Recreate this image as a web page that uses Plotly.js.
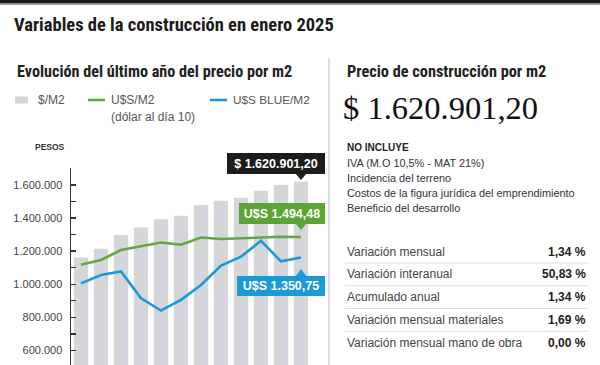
<!DOCTYPE html>
<html>
<head>
<meta charset="utf-8">
<script src="https://cdn.plot.ly/plotly-3.0.1.min.js"></script>
<style>
  html, body { margin: 0; padding: 0; background: #fff; }
  #chart { width: 600px; height: 365px; }
</style>
</head>
<body>
<div id="chart"></div>
<script>
// ---- data ----
const months = ['Feb 24','Mar 24','Abr 24','May 24','Jun 24','Jul 24','Ago 24','Sep 24','Oct 24','Nov 24','Dic 24','Ene 25'];
const pesosM2 = [1162000, 1214000, 1297000, 1343000, 1393000, 1413000, 1478000, 1504000, 1523000, 1564000, 1599500, 1620901.20];
const usdM2 = [1300, 1333, 1403, 1431, 1456, 1440, 1491, 1480, 1484, 1491, 1496, 1494.48];
const usdBlueM2 = [1169, 1228, 1253, 1064, 978, 1053, 1157, 1293, 1356, 1468, 1323, 1350.75];
const yTickStep = 200000;
const seriesNames = ['$/M2', 'U$S/M2', 'U$S BLUE/M2'];
const calloutTexts = ['$ 1.620.901,20', 'U$S 1.494,48', 'U$S 1.350,75'];
const rightTitle = 'Precio de construcción por m2';
const bigValue = '$ 1.620.901,20';
const noIncluye = ['IVA (M.O 10,5% - MAT 21%)', 'Incidencia del terreno', 'Costos de la figura jurídica del emprendimiento', 'Beneficio del desarrollo'];
const tableLabels = ['Variación mensual', 'Variación interanual', 'Acumulado anual', 'Variación mensual materiales', 'Variación mensual mano de obra'];
const tableValues = ['1,34 %', '50,83 %', '1,34 %', '1,69 %', '0,00 %'];

// ---- styling ----
const W = 600, H = 365;
const px = v => v / W;
const py = v => 1 - v / H;
const NARROW = "'Liberation Sans Narrow', 'Roboto Condensed', 'Arial Narrow', 'Liberation Sans', sans-serif";
const SANS = "'Liberation Sans', Arial, sans-serif";
const SERIF = "'Liberation Serif', 'Times New Roman', serif";
const BAR = '#d5d6da', GREEN = '#62a83a', BLUE = '#1a9ad6', BLACK = '#1c1c1c';
const usdFactor = 860; // pesos per USD on the shared visual scale
const yRange = [512000, 1702000];

const last = months.length - 1;

const traces = [
  { type: 'bar', x: months, y: pesosM2, name: seriesNames[0], marker: { color: BAR }, hoverinfo: 'skip' },
  { type: 'scatter', mode: 'lines', x: months, y: usdM2, yaxis: 'y2', name: seriesNames[1], line: { color: GREEN, width: 2.6 }, hoverinfo: 'skip' },
  { type: 'scatter', mode: 'lines', x: months, y: usdBlueM2, yaxis: 'y2', name: seriesNames[2], line: { color: BLUE, width: 2.6 }, hoverinfo: 'skip' }
];

const ann = [];
const shapes = [];

// top band
shapes.push({ type: 'rect', xref: 'paper', yref: 'paper', x0: 0, x1: 1, y0: py(3.6), y1: 1, fillcolor: '#231c16', line: { width: 0 } });
shapes.push({ type: 'line', xref: 'paper', yref: 'paper', x0: 0, x1: 1, y0: py(4.4), y1: py(4.4), line: { color: '#9a9a9a', width: 1 } });

// titles
ann.push({ xref: 'paper', yref: 'paper', x: px(12), y: py(25), xanchor: 'left', yanchor: 'middle', showarrow: false,
  text: '<b>Variables de la construcción en enero 2025</b>', font: { family: NARROW, size: 18.5, color: '#1a1a1a' } });
ann.push({ xref: 'paper', yref: 'paper', x: px(15), y: py(71.5), xanchor: 'left', yanchor: 'middle', showarrow: false,
  text: '<b>Evolución del último año del precio por m2</b>', font: { family: NARROW, size: 16.2, color: '#222' } });

// legend
shapes.push({ type: 'rect', xref: 'paper', yref: 'paper', x0: px(15), x1: px(28), y0: py(103.5), y1: py(96.5), fillcolor: BAR, line: { width: 0 } });
ann.push({ xref: 'paper', yref: 'paper', x: px(36), y: py(100), xanchor: 'left', yanchor: 'middle', showarrow: false,
  text: seriesNames[0], font: { family: SANS, size: 12, color: '#555' } });
shapes.push({ type: 'line', xref: 'paper', yref: 'paper', x0: px(88), x1: px(105), y0: py(100), y1: py(100), line: { color: GREEN, width: 2.6 } });
ann.push({ xref: 'paper', yref: 'paper', x: px(109), y: py(100), xanchor: 'left', yanchor: 'middle', showarrow: false,
  text: seriesNames[1], font: { family: SANS, size: 12, color: '#555' } });
ann.push({ xref: 'paper', yref: 'paper', x: px(109), y: py(116.5), xanchor: 'left', yanchor: 'middle', showarrow: false,
  text: '(dólar al día 10)', font: { family: SANS, size: 12, color: '#555' } });
shapes.push({ type: 'line', xref: 'paper', yref: 'paper', x0: px(210), x1: px(227), y0: py(100), y1: py(100), line: { color: BLUE, width: 2.6 } });
ann.push({ xref: 'paper', yref: 'paper', x: px(231), y: py(100), xanchor: 'left', yanchor: 'middle', showarrow: false,
  text: seriesNames[2], font: { family: SANS, size: 11.8, color: '#555' } });

// PESOS label
ann.push({ xref: 'paper', yref: 'paper', x: px(33), y: py(147), xanchor: 'left', yanchor: 'middle', showarrow: false,
  text: '<b>PESOS</b>', font: { family: SANS, size: 8.5, color: '#333' } });

// callouts
function callout(text, yref, yval, color, width, height, above, shift, tri) {
  ann.push({ xref: 'x', yref: yref, x: months[last], y: yval, xanchor: 'right', yanchor: above ? 'bottom' : 'top',
    xshift: 23.5, yshift: shift, showarrow: false, bgcolor: color, borderpad: 3, borderwidth: 0,
    width: width, height: height, align: 'center', valign: 'middle',
    text: '<b>' + text + '</b>', font: { family: SANS, size: 12.5, color: '#fff' } });
  shapes.push({ type: 'path', xref: 'x', yref: yref, xsizemode: 'pixel', ysizemode: 'pixel',
    xanchor: months[last], yanchor: yval, path: tri, fillcolor: color, line: { width: 0 } });
}
callout(calloutTexts[0], 'y', pesosM2[last], BLACK, 92, 15, true, 7.5, 'M -5.5 8 L 5.5 8 L 0 1.5 Z');
callout(calloutTexts[1], 'y2', usdM2[last], '#5ca534', 80, 15, true, 13, 'M -5.5 13.5 L 5.5 13.5 L 0 7 Z');
callout(calloutTexts[2], 'y2', usdBlueM2[last], BLUE, 82, 14, false, -18.5, 'M -5.5 -19 L 5.5 -19 L 0 -11.5 Z');

// right panel
shapes.push({ type: 'line', xref: 'paper', yref: 'paper', x0: px(329), x1: px(329), y0: py(58), y1: 0, line: { color: '#d2d2d2', width: 1.5 } });
ann.push({ xref: 'paper', yref: 'paper', x: px(345), y: py(72), xanchor: 'left', yanchor: 'middle', showarrow: false,
  text: '<b>' + rightTitle + '</b>', font: { family: NARROW, size: 16.3, color: '#222' } });
ann.push({ xref: 'paper', yref: 'paper', x: px(341), y: py(108), xanchor: 'left', yanchor: 'middle', showarrow: false,
  text: bigValue, font: { family: SERIF, size: 32.5, color: '#111' } });
ann.push({ xref: 'paper', yref: 'paper', x: px(345), y: py(147), xanchor: 'left', yanchor: 'middle', showarrow: false,
  text: '<b>NO INCLUYE</b>', font: { family: SANS, size: 10, color: '#222' } });
noIncluye.forEach((t, i) => {
  ann.push({ xref: 'paper', yref: 'paper', x: px(345), y: py(162.5 + i * 15.3), xanchor: 'left', yanchor: 'middle', showarrow: false,
    text: t, font: { family: SANS, size: 10.9, color: '#333' } });
});
tableLabels.forEach((t, i) => {
  const yc = 251.7 + i * 22.75;
  ann.push({ xref: 'paper', yref: 'paper', x: px(345), y: py(yc), xanchor: 'left', yanchor: 'middle', showarrow: false,
    text: t, font: { family: SANS, size: 12, color: '#444' } });
  ann.push({ xref: 'paper', yref: 'paper', x: px(588), y: py(yc), xanchor: 'right', yanchor: 'middle', showarrow: false,
    text: '<b>' + tableValues[i] + '</b>', font: { family: SANS, size: 12, color: '#222' } });
  if (i < tableLabels.length - 1) {
    const ys = yc + 11.3;
    shapes.push({ type: 'line', xref: 'paper', yref: 'paper', x0: px(345), x1: px(588), y0: py(ys), y1: py(ys), line: { color: '#dcdcdc', width: 1 } });
  }
});

const layout = {
  width: W, height: H,
  margin: { l: 0, r: 0, t: 0, b: 0, pad: 0 },
  paper_bgcolor: '#fff', plot_bgcolor: '#fff',
  showlegend: false,
  separators: ',.',
  bargap: 0.29,
  xaxis: { type: 'category', domain: [px(71), px(311)], range: [-0.5, 11.5], showticklabels: false, ticks: '', showline: false, showgrid: false, zeroline: false, fixedrange: true },
  yaxis: { domain: [0, 1 - 168 / H], range: yRange, dtick: yTickStep, tick0: 0, tickformat: ',d',
    ticks: 'inside', ticklen: 5, tickwidth: 1.3, tickcolor: '#333', showline: true, linecolor: '#333', linewidth: 1.5,
    showgrid: false, zeroline: false, ticklabelstandoff: 5,
    tickfont: { family: SANS, size: 11, color: '#444' },
    minor: { dtick: yTickStep / 2, tick0: 0, ticks: 'inside', ticklen: 5, tickwidth: 1.3, tickcolor: '#333', showgrid: false },
    fixedrange: true },
  yaxis2: { overlaying: 'y', side: 'right', range: [yRange[0] / usdFactor, yRange[1] / usdFactor], visible: false, fixedrange: true },
  annotations: ann,
  shapes: shapes
};

Plotly.newPlot('chart', traces, layout, { displayModeBar: false, staticPlot: true });
</script>
</body>
</html>
